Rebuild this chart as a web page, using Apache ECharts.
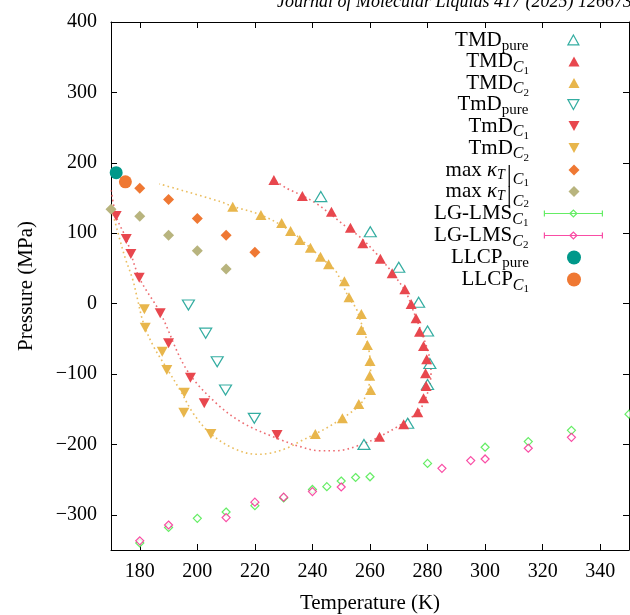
<!DOCTYPE html>
<html><head><meta charset="utf-8">
<script src="https://cdn.jsdelivr.net/npm/echarts@6/dist/echarts.min.js"></script>
<style>html,body{margin:0;padding:0;background:#fff}#c{width:630px;height:615px}</style>
</head><body><div id="c"></div>
<script>
const F = 'Liberation Serif';
const xTicks = [180,200,220,240,260,280,300,320,340];
const yTicks = [-300,-200,-100,0,100,200,300,400];

const tmdPure = [[242.9,152],[260.1,102],[270,51.6],[276.9,2],[280,-39],[280.8,-85],[280,-115],[273.1,-170],[257.9,-200]];
const tmdC1 = [[226.6,175.6],[236.5,152.8],[246.6,130.5],[253.2,107.8],[257.5,85.7],[263.6,63.8],[267.7,43],[272.1,20.3],[274.3,-0.6],[276,-20.9],[277.2,-39.9],[278.6,-60.2],[279.7,-79.1],[279.3,-99],[279.5,-117],[278.6,-134.5],[276.6,-154.4],[271.7,-171.4],[263.3,-189]];
const tmdC2 = [[212.3,137.6],[222.1,125.9],[229.3,114.5],[232.4,103.1],[235.6,90.3],[239.3,79.4],[242.8,66.6],[245.6,55.8],[251.1,31.7],[252.7,9.1],[257,-14.8],[257,-37.5],[259.1,-58.8],[260,-81.5],[259.9,-102.4],[260.2,-122.7],[256.1,-142.6],[250.4,-162.9],[241,-185.2]];
const tmdnPure = [[196.9,-2],[202.9,-42],[206.9,-82.5],[209.8,-122.7],[219.8,-163]];
const tmdnC1 = [[171.8,124.4],[175.3,91.8],[176.9,70.5],[179.8,36.8],[187.1,-13.8],[190,-56.4],[197.6,-105.3],[202.4,-141.6],[227.7,-186.6]];
const tmdnC2 = [[181.6,-8.1],[181.9,-34.2],[187.8,-68.3],[189.4,-94.3],[195.5,-126.6],[195.3,-155],[204.7,-185.2]];
const kappaC1 = [[180,164],[190,148],[200,121],[210,97],[220,73]];
const kappaC2 = [[170,134],[180,124],[190,97],[200,75],[210,49]];
const lgC1 = [[180,-340],[190,-318],[200,-305],[210,-296],[220,-287],[230,-276],[240,-264],[245,-260],[250,-252],[255,-247],[260,-246],[280,-227],[300,-204],[315,-196],[330,-180],[350,-157]];
const lgC2 = [[180,-337],[190,-314.5],[210,-304],[220,-282],[230,-275],[240,-267],[250,-260.5],[285,-234],[295,-223],[300,-220.7],[315,-205.5],[330,-190]];
const llcpPure = [[171.8,186]];
const llcpC1 = [[175,173]];
const curveC1 = [[170.1,161],[171.8,124],[175.3,92],[179.8,37],[187.1,-13],[196.3,-94],[206.7,-142],[216,-170],[227.5,-191],[235.6,-203],[242.5,-209],[248.3,-209],[256.4,-201],[263.3,-189],[271.4,-170],[277.2,-151],[280,-127],[281.2,-99],[280.6,-75],[278.9,-52],[277.2,-33],[275.4,-14],[272.6,15],[267.9,43],[262.2,71],[256.4,95],[251.8,109],[246,128],[241.4,142],[236.7,153],[231,164],[226.6,176]];
const curveC2 = [[170.3,133],[174.6,69],[177.6,33.5],[179,10],[181.3,-28],[184.8,-61],[189.4,-92],[194,-123],[198.6,-156],[204.4,-184],[212.5,-205.5],[220.6,-214],[225.2,-212.6],[231,-205.5],[235.6,-196],[241,-185],[244.8,-177],[249.5,-165],[252.9,-156],[256.4,-144],[258.7,-130],[259.8,-113],[260.2,-94],[259.8,-71],[258.7,-49],[257,-28],[255.2,-7],[252.7,8],[248.3,45],[245.6,56],[239.3,79],[232.4,103],[222.1,126],[212.3,138],[207.9,145],[186.8,170]];

const TEAL='#00988a', RED='#e8474e', YEL='#e8b64c', ORA='#ef7833', OLI='#b8b47e', GRN='#3ee83e', PNK='#f8208e';

const legendNames = ['TMD_pure','TMD_C1','TMD_C2','TmD_pure','TmD_C1','TmD_C2','kT_C1','kT_C2','LG_C1','LG_C2','LLCP_pure','LLCP_C1'];
const labels = {
  'TMD_pure':'{m|TMD}{s|pure}',
  'TMD_C1':'{m|TMD}{c|C}{n|1}',
  'TMD_C2':'{m|TMD}{c|C}{n|2}',
  'TmD_pure':'{m|TmD}{s|pure}',
  'TmD_C1':'{m|TmD}{c|C}{n|1}',
  'TmD_C2':'{m|TmD}{c|C}{n|2}',
  'kT_C1':'{m|max }{mi|κ}{si|T}{bar||}{cl|C}{nl|1}',
  'kT_C2':'{m|max }{mi|κ}{si|T}{bar||}{cl|C}{nl|2}',
  'LG_C1':'{m|LG-LMS}{c|C}{n|1}',
  'LG_C2':'{m|LG-LMS}{c|C}{n|2}',
  'LLCP_pure':'{m|LLCP}{s|pure}',
  'LLCP_C1':'{m|LLCP}{c|C}{n|1}'
};
function tok(size, h, pt, pb, italic){
  return {fontFamily:F, fontSize:size, fontStyle: italic?'italic':'normal', height:h, lineHeight:30, padding:[pt,0,pb,0], color:'#000'};
}
const rich = {
  m: tok(21,20,5,5), mi: tok(21,20,5,5,true),
  s: tok(15,14,14,2), si: tok(14,14,13,3,true),
  c: tok(16,14,14,2,true), n: tok(11,10,20,0),
  bar: Object.assign(tok(25,20,10,0), {padding:[10,1,0,2]}),
  cl: tok(16,10,20,0,true), nl: tok(11,4,26,0)
};
const upPath='path://M5,0L10,9L0,9Z', dnPath='path://M0,0L10,0L5,9Z', diaPath='path://M5,0L10,5L5,10L0,5Z';
const ebar = 'path://M0,5H58M0,2V8M58,2V8M25.5,5L29,1.5L32.5,5L29,8.5Z';
const legendIcons = [
  {icon:upPath, itemStyle:{color:'#fff', borderColor:TEAL, borderWidth:1.2}},
  {icon:upPath, itemStyle:{color:RED, borderWidth:0}},
  {icon:upPath, itemStyle:{color:YEL, borderWidth:0}},
  {icon:dnPath, itemStyle:{color:'#fff', borderColor:TEAL, borderWidth:1.2}},
  {icon:dnPath, itemStyle:{color:RED, borderWidth:0}},
  {icon:dnPath, itemStyle:{color:YEL, borderWidth:0}},
  {icon:diaPath, itemStyle:{color:ORA, borderWidth:0}},
  {icon:diaPath, itemStyle:{color:OLI, borderWidth:0}},
  {icon:ebar, itemStyle:{color:'#fff', borderColor:GRN, borderWidth:1.2}},
  {icon:ebar, itemStyle:{color:'#fff', borderColor:PNK, borderWidth:1.2}},
  {icon:'circle', itemStyle:{color:TEAL, borderWidth:0}},
  {icon:'circle', itemStyle:{color:ORA, borderWidth:0}}
];
const rowCenters = [40,61.5,83,104.5,126,148,170,191.5,213.5,235.5,257.5,279.5];
const iconW = [11,11,11,11,11,11,11,11,58,58,14,14];
const iconH = [11,11,11,11,11,11,11,11,12,12,14,14];
const TEXT_END = 529, ICON_CX = 574;
const legends = legendNames.map((n,i)=>{
  const w = iconW[i];
  const iconLeft = ICON_CX - w/2;
  return {
    orient:'vertical', align:'right', top:rowCenters[i]-15, right:630-(ICON_CX + w/2), padding:0,
    itemWidth:w, itemHeight:iconH[i], selectedMode:false, symbolKeepAspect:true,
    data:[Object.assign({name:n}, legendIcons[i])],
    formatter: nm => labels[nm],
    textStyle:{fontFamily:F, fontSize:21, color:'#000', padding:[0, iconLeft-5-TEXT_END, 0, 0], rich:rich}
  };
});
function sc(name, data, symbol, size, color, opt){
  return Object.assign({type:'scatter', name, data, symbol, symbolSize:size, z:3,
    itemStyle:{color, opacity:1}, emphasis:{disabled:true}}, opt||{});
}
function hollow(name, data, symbol, size, color, rot){
  return {type:'scatter', name, data, symbol, symbolSize:size, symbolRotate:rot||0, z:3,
    itemStyle:{color:'#fff', borderColor:color, borderWidth:1.2}, emphasis:{disabled:true}};
}
function axisBase(){ return {
  type:'value', axisLine:{show:true, onZero:false, lineStyle:{color:'#000', width:1}},
  splitLine:{show:false}, axisTick:{show:true, inside:true, length:6, lineStyle:{color:'#000', width:1}}
};}
const chart = echarts.init(document.getElementById('c'), null, {renderer:'canvas'});
chart.setOption({
  animation:false, backgroundColor:'#fff',
  grid:{left:111, right:1, top:22, bottom:65, outerBoundsMode:'none', containLabel:false},
  xAxis:[
    Object.assign(axisBase(), {min:170, max:350, position:'bottom',
      axisTick:{show:true, inside:true, length:6, customValues:xTicks, lineStyle:{color:'#000'}},
      axisLabel:{customValues:xTicks, fontFamily:F, fontSize:20, color:'#000', margin:12},
      name:'Temperature (K)', nameLocation:'middle', nameGap:43, nameMoveOverlap:false,
      nameTextStyle:{fontFamily:F, fontSize:21, color:'#000'}}),
    Object.assign(axisBase(), {min:170, max:350, position:'top',
      axisTick:{show:true, inside:true, length:6, customValues:xTicks, lineStyle:{color:'#000'}},
      axisLabel:{show:false}})
  ],
  yAxis:[
    Object.assign(axisBase(), {min:-350, max:400, position:'left',
      axisTick:{show:true, inside:true, length:6, customValues:yTicks, lineStyle:{color:'#000'}},
      axisLabel:{customValues:yTicks, fontFamily:F, fontSize:20, color:'#000', margin:14,
        formatter:v=>String(v).replace('-','\u2212')},
      name:'Pressure (MPa)', nameLocation:'middle', nameGap:74, nameRotate:90, nameMoveOverlap:false,
      nameTextStyle:{fontFamily:F, fontSize:21, color:'#000'}}),
    Object.assign(axisBase(), {min:-350, max:400, position:'right',
      axisTick:{show:true, inside:true, length:6, customValues:yTicks, lineStyle:{color:'#000'}},
      axisLabel:{show:false}})
  ],
  legend: legends,
  graphic:[{type:'text', left:277, top:-7, silent:true,
    style:{text:'Journal of Molecular Liquids 417 (2025) 126673', font:'italic 18px "Liberation Serif"', fill:'#000'}}],
  series:[
    {type:'line', name:'fitC1', data:curveC1, showSymbol:false, smooth:0.35, z:1, silent:true,
      lineStyle:{color:RED, width:1.6, type:[1.6,3.2], opacity:0.8}},
    {type:'line', name:'fitC2', data:curveC2, showSymbol:false, smooth:0.35, z:1, silent:true,
      lineStyle:{color:YEL, width:1.6, type:[1.6,3.2], opacity:0.9}},
    hollow('TMD_pure', tmdPure, 'triangle', [12,10], TEAL),
    sc('TMD_C1', tmdC1, 'triangle', [11,10], RED),
    sc('TMD_C2', tmdC2, 'triangle', [11,10], YEL),
    hollow('TmD_pure', tmdnPure, 'triangle', [12,10], TEAL, 180),
    sc('TmD_C1', tmdnC1, 'triangle', [11,10], RED, {symbolRotate:180}),
    sc('TmD_C2', tmdnC2, 'triangle', [11,10], YEL, {symbolRotate:180}),
    sc('kT_C1', kappaC1, 'diamond', 11, ORA),
    sc('kT_C2', kappaC2, 'diamond', 11, OLI),
    hollow('LG_C1', lgC1, 'diamond', 8, GRN),
    hollow('LG_C2', lgC2, 'diamond', 8, PNK),
    sc('LLCP_pure', llcpPure, 'circle', 13, TEAL),
    sc('LLCP_C1', llcpC1, 'circle', 13, ORA)
  ]
});
</script></body></html>
